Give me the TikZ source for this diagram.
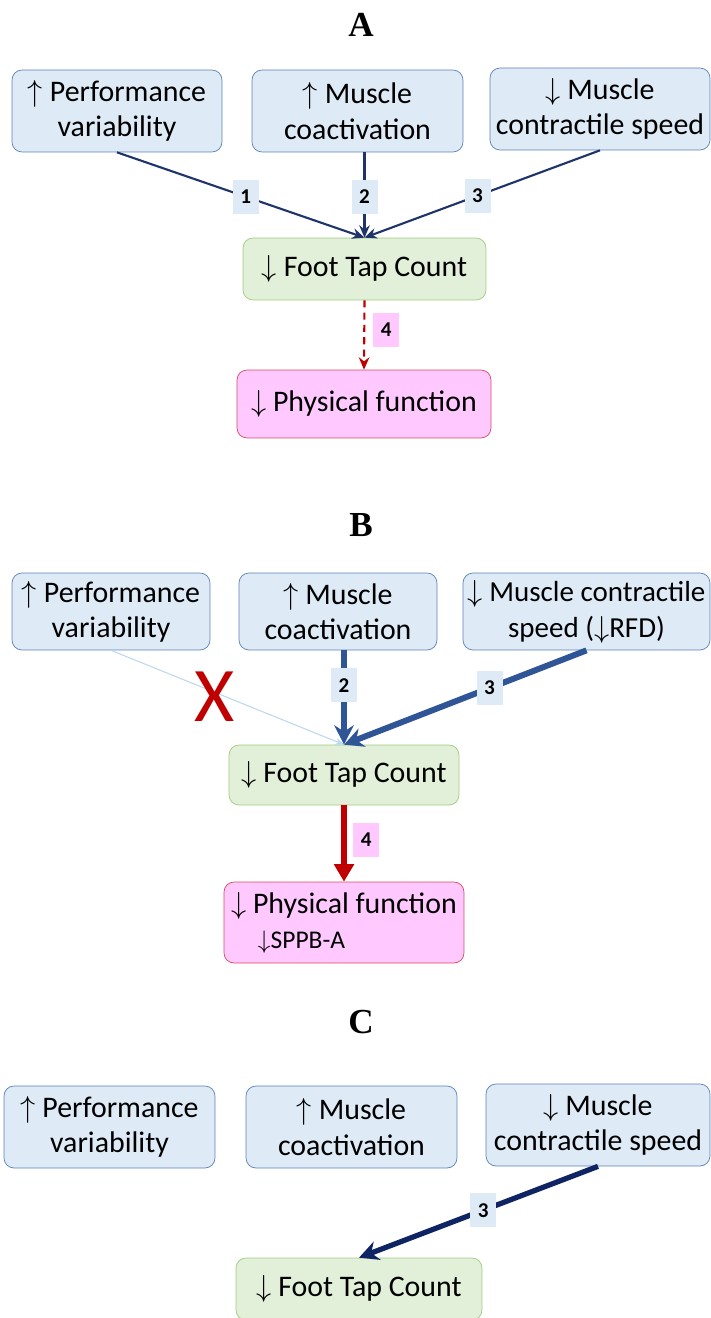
\documentclass[tikz,border=0pt]{standalone}
\usepackage{fontspec}
\setmainfont{Carlito}
\newfontfamily\headfont{Liberation Serif}
\usetikzlibrary{arrows.meta}

\definecolor{causefill}{HTML}{DEEBF7}
\definecolor{causeline}{HTML}{5A82B4}
\definecolor{tapfill}{HTML}{E2F0D9}
\definecolor{tapline}{HTML}{9DCB7E}
\definecolor{funcfill}{HTML}{FFC9FF}
\definecolor{funcline}{HTML}{D9495E}
\definecolor{navy}{HTML}{1F3468}
\definecolor{darknavy}{HTML}{0F2563}
\definecolor{midblue}{HTML}{2F5597}
\definecolor{paleblue}{HTML}{BDD7EE}
\definecolor{darkred}{HTML}{C00000}

\tikzset{
  cause/.style={draw=causeline, fill=causefill, rounded corners=0.2cm, align=center,
    inner sep=0pt, font=\fontsize{17}{20}\selectfont},
  tap/.style={cause, draw=tapline, fill=tapfill},
  func/.style={cause, draw=funcline, fill=funcfill},
  numlbl/.style={fill=causefill, text=black, inner sep=0pt, minimum width=0.52cm, minimum height=0.68cm,
    font=\fontsize{12}{14}\selectfont\bfseries},
  pinklbl/.style={numlbl, fill=funcfill},
  head/.style={font=\headfont\bfseries\fontsize{20}{24}\selectfont},
  linkA/.style={navy, line width=1.2pt, -{Stealth[length=7pt,width=6pt]}},
  linkB/.style={midblue, line width=3.4pt, -{Stealth[length=11pt,width=11pt]}},
  linkC/.style={darknavy, line width=3pt, -{Stealth[length=11pt,width=11pt]}}
}

\begin{document}
\begin{tikzpicture}[x=0.02cm,y=-0.02cm]
\useasboundingbox (0,0) rectangle (710,1318);

% panel A
\node[head] (headA) at (361,25) {A};
\node[cause, minimum width=4.2cm, minimum height=1.64cm] (perfA) at (117,111) {$\uparrow$ Performance\\variability};
\node[cause, minimum width=4.22cm, minimum height=1.64cm] (musA) at (357.5,111) {$\uparrow$ Muscle\\coactivation};
\node[cause, minimum width=4.4cm, minimum height=1.64cm] (speedA) at (600,109) {$\downarrow$ Muscle\\contractile speed};
\node[tap, minimum width=4.86cm, minimum height=1.24cm] (tapA) at (364.5,269) {$\downarrow$ Foot Tap Count};
\node[func, minimum width=5.08cm, minimum height=1.36cm] (funcA) at (364,404) {$\downarrow$ Physical function};

\draw[linkA] (perfA.south) -- node[numlbl, pos=0.52] {1} (tapA.north);
\draw[linkA] (musA.south -| tapA.north) -- node[numlbl, pos=0.52] {2} (tapA.north);
\draw[linkA] (speedA.south) -- node[numlbl, pos=0.52] {3} (tapA.north);
\draw[darkred, line width=1.2pt, dash pattern=on 4pt off 3pt, -{Stealth[length=7pt,width=6pt]}]
  (tapA.south) -- node[pinklbl, anchor=west, xshift=0.16cm, pos=0.43] {4} (funcA.north);

% panel B
\node[head] (headB) at (361,525) {B};
\node[cause, minimum width=3.96cm, minimum height=1.54cm] (perfB) at (111,611.5) {$\uparrow$ Performance\\variability};
\node[cause, minimum width=3.96cm, minimum height=1.54cm] (musB) at (338,611.5) {$\uparrow$ Muscle\\coactivation};
\node[cause, minimum width=4.94cm, minimum height=1.54cm, font=\fontsize{16.5}{20.5}\selectfont] (speedB) at (586.5,611.5)
  {$\downarrow$ Muscle contractile\\speed ($\downarrow$RFD)};
\node[tap, minimum width=4.6cm, minimum height=1.2cm] (tapB) at (344,775) {$\downarrow$ Foot Tap Count};
\node[func, minimum width=4.8cm, minimum height=1.62cm, align=left] (funcB) at (344,922.5)
  {$\downarrow$ Physical function\\\hspace*{0.9em}{\fontsize{14.5}{16}\selectfont$\downarrow$SPPB-A}};

\draw[paleblue, line width=0.6pt, -{Stealth[length=5pt,width=4pt]}] (perfB.south) -- (tapB.north);
\node[text=darkred, font=\fontsize{44}{44}\selectfont] (crossB) at (215,697) {X};
\draw[linkB] (musB.south -| tapB.north) -- node[numlbl, pos=0.37] {2} (tapB.north);
\draw[linkB] (speedB.south) -- node[numlbl, pos=0.4] {3} (tapB.north);
\draw[darkred, line width=3.6pt, -{Triangle[length=10pt,width=11pt]}]
  (tapB.south) -- node[pinklbl, anchor=west, xshift=0.12cm, pos=0.45] {4} (funcB.north);

% panel C
\node[head] (headC) at (361,1022) {C};
\node[cause, minimum width=4.22cm, minimum height=1.64cm] (perfC) at (109.5,1127) {$\uparrow$ Performance\\variability};
\node[cause, minimum width=4.22cm, minimum height=1.64cm] (musC) at (351.5,1127) {$\uparrow$ Muscle\\coactivation};
\node[cause, minimum width=4.48cm, minimum height=1.64cm] (speedC) at (598,1125) {$\downarrow$ Muscle\\contractile speed};
\node[tap, minimum width=4.92cm, minimum height=1.24cm] (tapC) at (359,1289) {$\downarrow$ Foot Tap Count};

\draw[linkC] (speedC.south) -- node[numlbl, pos=0.48] {3} (tapC.north);
\end{tikzpicture}
\end{document}
